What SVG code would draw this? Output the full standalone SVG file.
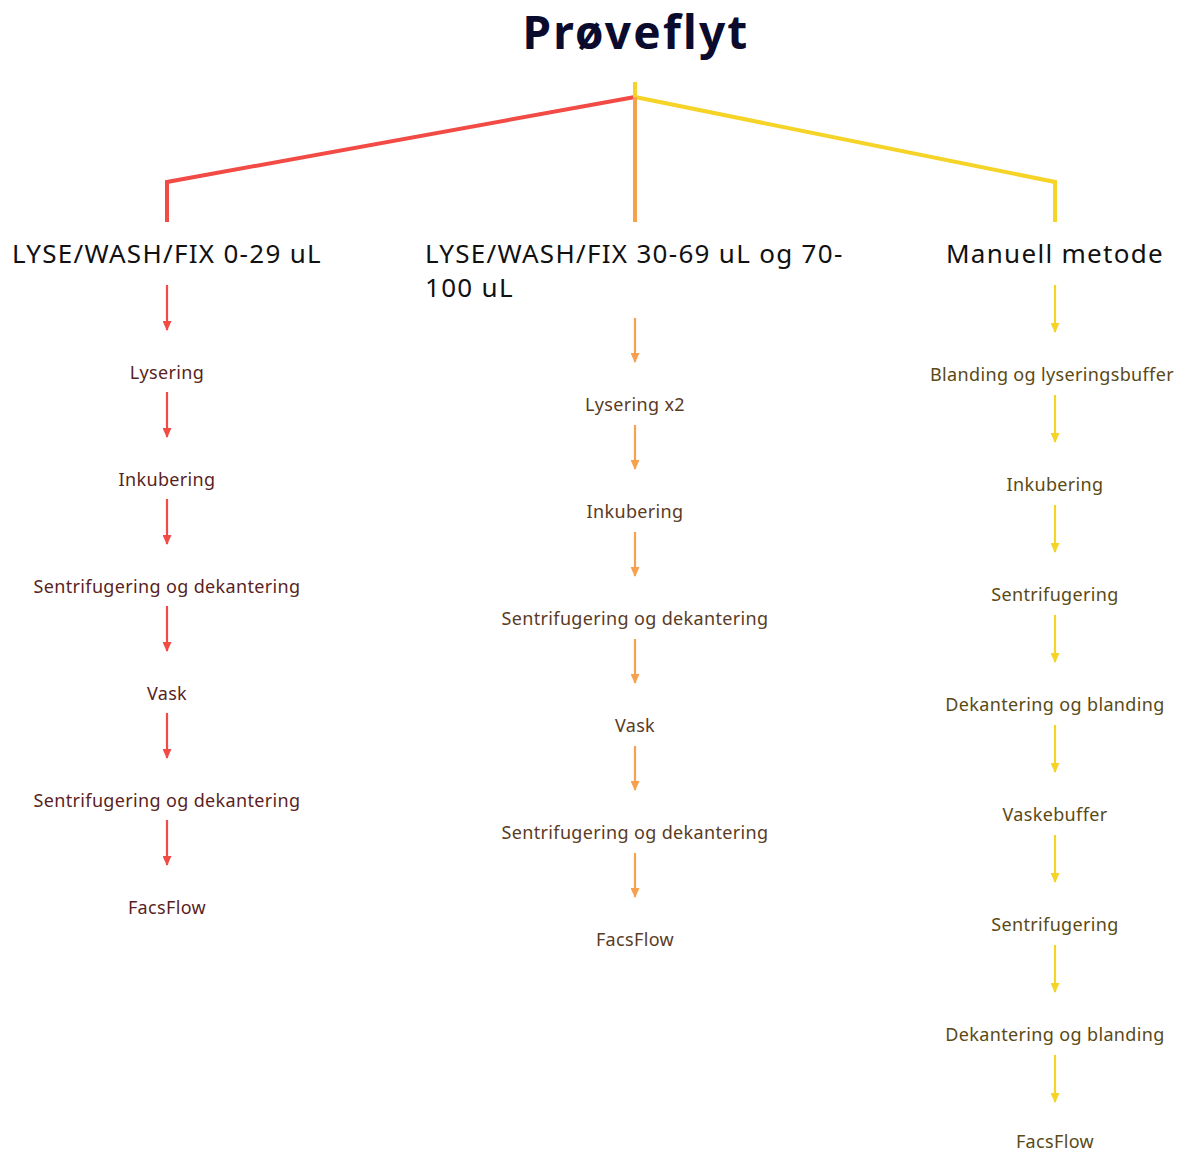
<svg xmlns="http://www.w3.org/2000/svg" width="1182" height="1153" viewBox="0 0 1182 1153">
<defs>
<marker id="arR" markerWidth="10" markerHeight="9" refX="9" refY="4.5" orient="auto" markerUnits="userSpaceOnUse"><path d="M0,0 L10,4.5 L0,9 Z" fill="#f24a45"/></marker>
<marker id="arO" markerWidth="10" markerHeight="9" refX="9" refY="4.5" orient="auto" markerUnits="userSpaceOnUse"><path d="M0,0 L10,4.5 L0,9 Z" fill="#f7a04e"/></marker>
<marker id="arY" markerWidth="10" markerHeight="9" refX="9" refY="4.5" orient="auto" markerUnits="userSpaceOnUse"><path d="M0,0 L10,4.5 L0,9 Z" fill="#f5d327"/></marker>
</defs>
<style>
.title{font-family:"Noto Sans","Open Sans",sans-serif;font-weight:700;font-size:46px;letter-spacing:2.2px;fill:#0b0b2e;text-anchor:middle}
.hd{font-family:"Noto Sans","Open Sans",sans-serif;font-size:26px;letter-spacing:1.3px;fill:#111}
.st{font-family:"Noto Sans","Open Sans",sans-serif;font-size:18px;letter-spacing:0.35px;text-anchor:middle}
.r{fill:#5a1f22}.o{fill:#5a3b24}.y{fill:#5a4a16}
.lr{stroke:#f24a45;stroke-width:4;fill:none}
.lo{stroke:#f7a04e;stroke-width:4;fill:none}
.ly{stroke:#f5d327;stroke-width:4;fill:none}
.ar{stroke:#f24a45;stroke-width:2.2;marker-end:url(#arR)}
.ao{stroke:#f7a04e;stroke-width:2.2;marker-end:url(#arO)}
.ay{stroke:#f5d327;stroke-width:2.2;marker-end:url(#arY)}
</style>
<rect width="1182" height="1153" fill="#fff"/>
<g id="title"><text class="title" x="636" y="49">Prøveflyt</text></g>
<g id="tree">
<polyline class="lr" points="635,97 167,182 167,222"/>
<polyline class="ly" points="635,97 1055,182 1055,222"/>
<line class="ly" x1="635" y1="82" x2="635" y2="98"/>
<line class="lo" x1="635" y1="97" x2="635" y2="222"/>
</g>
<g id="h1"><text class="hd" x="167" y="263" text-anchor="middle">LYSE/WASH/FIX 0-29 uL</text></g>
<g id="h2"><text class="hd" x="425" y="263">LYSE/WASH/FIX 30-69 uL og 70-</text><text class="hd" x="425" y="297">100 uL</text></g>
<g id="h3"><text class="hd" x="1055" y="263" text-anchor="middle">Manuell metode</text></g>
<g id="connectors">
<line class="ar" x1="167" y1="285" x2="167" y2="330"/>
<line class="ar" x1="167" y1="392" x2="167" y2="437"/>
<line class="ar" x1="167" y1="499" x2="167" y2="544"/>
<line class="ar" x1="167" y1="606" x2="167" y2="651"/>
<line class="ar" x1="167" y1="713" x2="167" y2="758"/>
<line class="ar" x1="167" y1="820" x2="167" y2="865"/>
<line class="ao" x1="635" y1="318" x2="635" y2="362"/>
<line class="ao" x1="635" y1="425" x2="635" y2="469"/>
<line class="ao" x1="635" y1="532" x2="635" y2="576"/>
<line class="ao" x1="635" y1="639" x2="635" y2="683"/>
<line class="ao" x1="635" y1="746" x2="635" y2="790"/>
<line class="ao" x1="635" y1="853" x2="635" y2="897"/>
<line class="ay" x1="1055" y1="285" x2="1055" y2="332"/>
<line class="ay" x1="1055" y1="395" x2="1055" y2="442"/>
<line class="ay" x1="1055" y1="505" x2="1055" y2="552"/>
<line class="ay" x1="1055" y1="615" x2="1055" y2="662"/>
<line class="ay" x1="1055" y1="725" x2="1055" y2="772"/>
<line class="ay" x1="1055" y1="835" x2="1055" y2="882"/>
<line class="ay" x1="1055" y1="945" x2="1055" y2="992"/>
<line class="ay" x1="1055" y1="1055" x2="1055" y2="1102"/>
</g>
<g id="col1">
<g id="r1"><text class="st r" x="167" y="379">Lysering</text></g>
<g id="r2"><text class="st r" x="167" y="486">Inkubering</text></g>
<g id="r3"><text class="st r" x="167" y="593">Sentrifugering og dekantering</text></g>
<g id="r4"><text class="st r" x="167" y="700">Vask</text></g>
<g id="r5"><text class="st r" x="167" y="807">Sentrifugering og dekantering</text></g>
<g id="r6"><text class="st r" x="167" y="914">FacsFlow</text></g>
</g>
<g id="col2">
<g id="o1"><text class="st o" x="635" y="411">Lysering x2</text></g>
<g id="o2"><text class="st o" x="635" y="518">Inkubering</text></g>
<g id="o3"><text class="st o" x="635" y="625">Sentrifugering og dekantering</text></g>
<g id="o4"><text class="st o" x="635" y="732">Vask</text></g>
<g id="o5"><text class="st o" x="635" y="839">Sentrifugering og dekantering</text></g>
<g id="o6"><text class="st o" x="635" y="946">FacsFlow</text></g>
</g>
<g id="col3">
<g id="y1"><text class="st y" x="1052" y="381">Blanding og lyseringsbuffer</text></g>
<g id="y2"><text class="st y" x="1055" y="491">Inkubering</text></g>
<g id="y3"><text class="st y" x="1055" y="601">Sentrifugering</text></g>
<g id="y4"><text class="st y" x="1055" y="711">Dekantering og blanding</text></g>
<g id="y5"><text class="st y" x="1055" y="821">Vaskebuffer</text></g>
<g id="y6"><text class="st y" x="1055" y="931">Sentrifugering</text></g>
<g id="y7"><text class="st y" x="1055" y="1041">Dekantering og blanding</text></g>
<g id="y8"><text class="st y" x="1055" y="1148">FacsFlow</text></g>
</g>
</svg>
